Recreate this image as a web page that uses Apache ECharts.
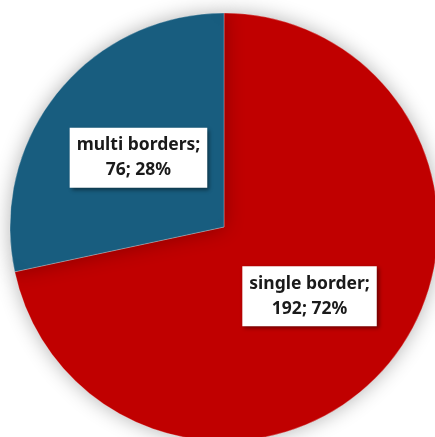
<!DOCTYPE html>
<html>
<head>
<meta charset="utf-8">
<script src="https://cdn.jsdelivr.net/npm/echarts@6/dist/echarts.min.js"></script>
<style>
  html, body { margin: 0; padding: 0; background: #fff; }
  #chart { width: 435px; height: 437px; }
</style>
</head>
<body>
<div id="chart"></div>
<script>
const categories = ['single border', 'multi borders']
const counts = [192, 76]
const colors = ['#c00000', '#185d7f']

const chart = echarts.init(document.getElementById('chart'))

chart.setOption({
  animation: false,
  backgroundColor: '#fff',
  series: [{
    type: 'pie',
    center: [224, 227],
    radius: 214,
    startAngle: 90,
    clockwise: true,
    percentPrecision: 0,
    data: categories.map((name, i) => ({
      name,
      value: counts[i],
      itemStyle: { color: colors[i] },
    })),
    itemStyle: {
      borderColor: 'rgba(255,255,255,0.45)',
      borderWidth: 0.6,
      shadowBlur: 20,
      shadowColor: 'rgba(0,0,0,0.3)',
    },
    label: {
      show: true,
      position: 'inside',
      formatter: '{b};\n{c}; {d}%',
      fontFamily: 'Noto Sans',
      fontWeight: 'bold',
      fontSize: 17.5,
      lineHeight: 25,
      color: '#1a1a1a',
      backgroundColor: '#fff',
      padding: [5, 7, 5, 7],
      shadowBlur: 4,
      shadowOffsetX: 2,
      shadowOffsetY: 2,
      shadowColor: 'rgba(0,0,0,0.45)',
    },
    labelLine: { show: false },
    emphasis: { disabled: true },
  }],
})
</script>
</body>
</html>
